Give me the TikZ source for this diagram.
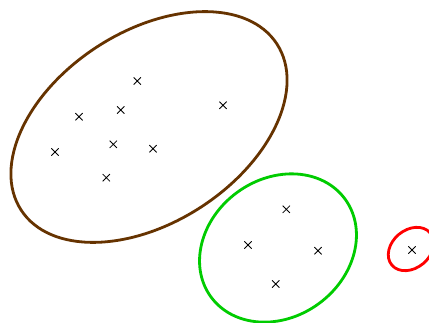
\documentclass[tikz,border=0pt]{standalone}
\usetikzlibrary{shapes.misc}
\definecolor{brownc}{RGB}{102,51,0}
\definecolor{greenc}{RGB}{0,204,0}
\definecolor{redc}{RGB}{255,0,0}
\begin{document}
\begin{tikzpicture}[x=1pt,y=1pt,
  pt/.style={cross out,draw=black,line width=0.8pt,minimum size=6.5pt,inner sep=0pt},
  clus/.style={line width=2.8pt}]
\clip (0,0) rectangle (429,322);
\fill[white] (0,0) rectangle (429,322);
% brown cluster
\draw[clus,brownc,rotate around={33:(149,195)}] (149,195) ellipse [x radius=152.5, y radius=95.5];
\draw[clus,greenc,rotate around={36:(278,74)}] (278,74) ellipse [x radius=83, y radius=69];
\draw[clus,redc,rotate around={40:(411,73)}] (411,73) ellipse [x radius=25, y radius=19];
\node[pt] (b1) at (137.3,241) {};
\node[pt] (b2) at (79,205.3) {};
\node[pt] (b3) at (120.7,212) {};
\node[pt] (b4) at (223,216.7) {};
\node[pt] (b5) at (55,170) {};
\node[pt] (b6) at (113.3,177.7) {};
\node[pt] (b7) at (153,173.3) {};
\node[pt] (b8) at (106.3,144.3) {};
\node[pt] (g1) at (286.3,112.7) {};
\node[pt] (g2) at (248,77) {};
\node[pt] (g3) at (318,71.3) {};
\node[pt] (g4) at (275.7,38) {};
\node[pt] (r1) at (412,72) {};
\end{tikzpicture}
\end{document}
